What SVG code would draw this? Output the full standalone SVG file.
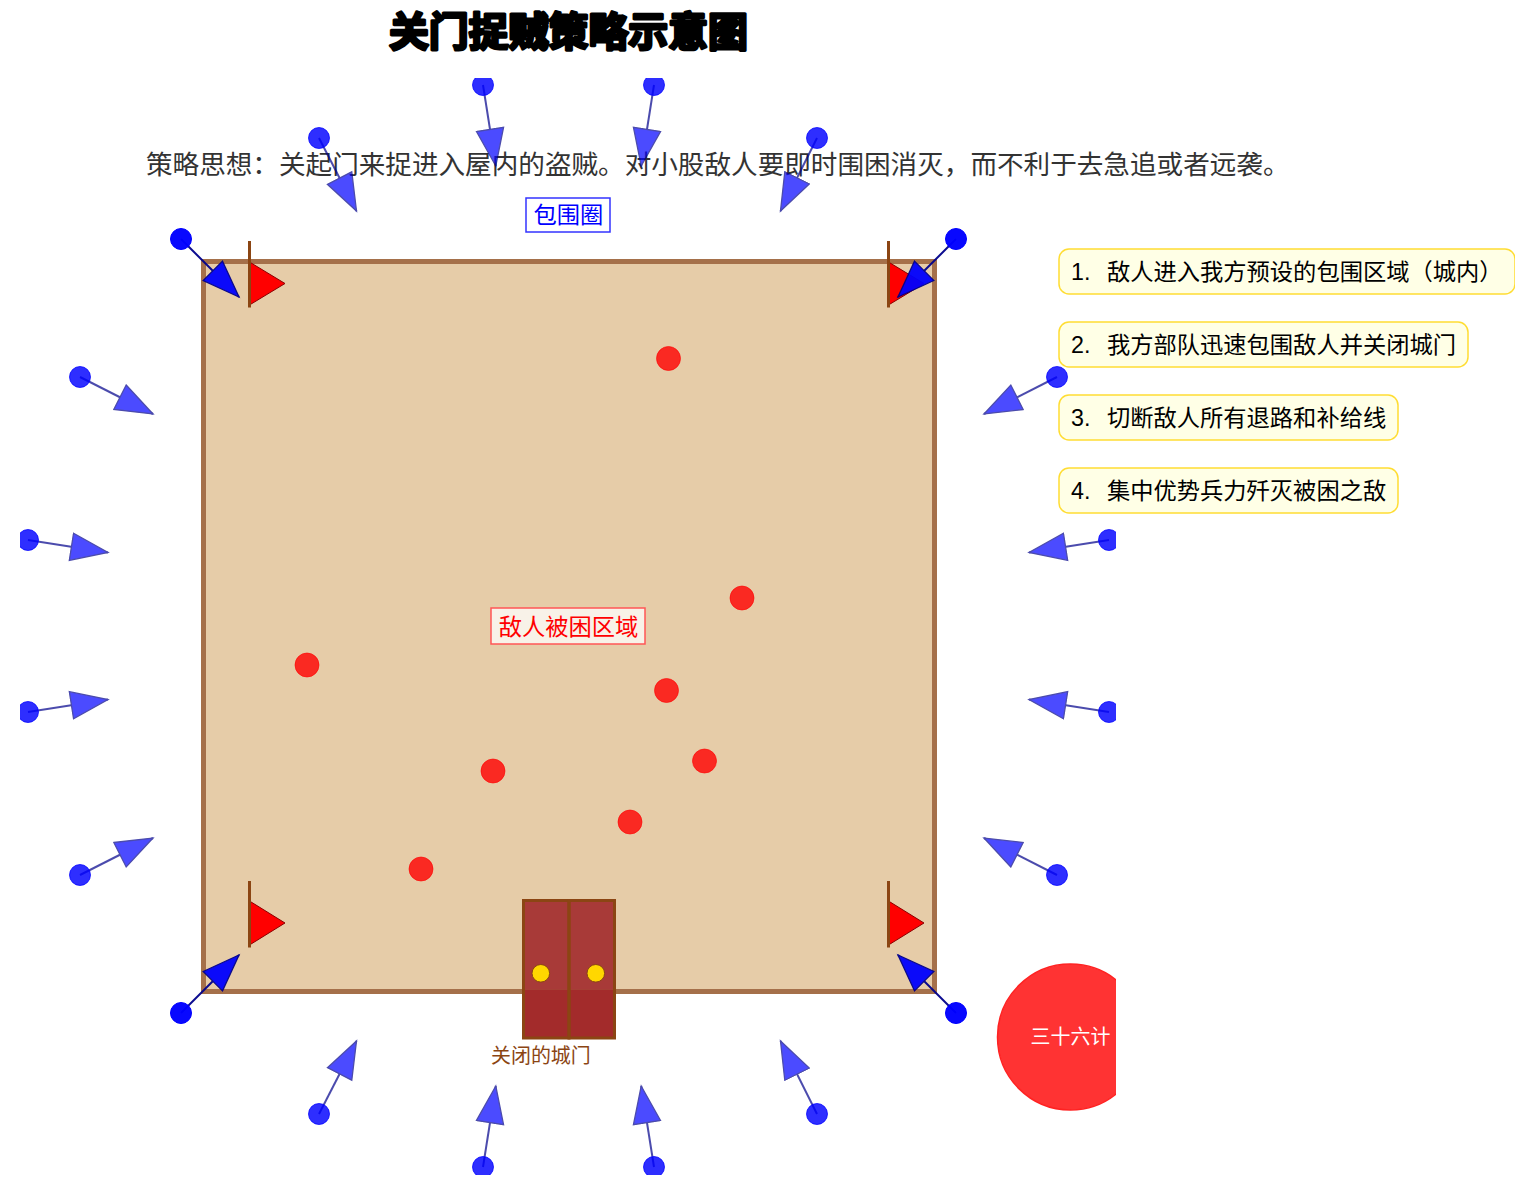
<svg xmlns="http://www.w3.org/2000/svg" width="1515" height="1186" viewBox="0 0 1515 1186">
<style>
text{font-family:"Noto Sans Mono CJK SC","Noto Sans CJK SC",sans-serif}
.cn{text-anchor:middle}
.pole{stroke:#8B4513;stroke-width:3;fill:none}
.flag{fill:#FF0000;stroke:#8B0000;stroke-width:1}
.enemy{fill:#FF0000;fill-opacity:.8;stroke:#FF0000;stroke-opacity:.6;stroke-width:1}
.soldier{fill:#0000FF;fill-opacity:.82;stroke:#0000FF;stroke-opacity:.75;stroke-width:1}
.corner{fill:#0000FF;fill-opacity:.97;stroke:#0000FF;stroke-width:1}
.arrow{stroke:#00008B;stroke-width:2;fill:none;opacity:.7;marker-end:url(#tip)}
.arrowc{stroke:#00008B;stroke-width:2;fill:none;opacity:.95;marker-end:url(#tip)}
.step{fill:#FFFFE6;stroke:#FFDD33;stroke-width:1.5}
.stept{font-size:23.27px;fill:#000}
.num{font-family:"Liberation Sans",sans-serif}
.door{stroke:#8B4513;stroke-width:3}
.knob{fill:#FFD700;stroke:#8B4513;stroke-width:1}
</style>
<defs>
<clipPath id="view"><rect x="20" y="78" width="1096" height="1097"/></clipPath>
<marker id="tip" markerUnits="userSpaceOnUse" markerWidth="42" markerHeight="32" refX="38" refY="15" orient="auto">
<polygon points="1,1.300 38,15 1,28.700" fill="#0000FF" stroke="#00008B" stroke-width="1.300"/>
</marker>
</defs>
<rect width="1515" height="1186" fill="#FFFFFF"/>
<g id="title"><text class="cn" x="568.500" y="46" font-size="39.900" font-weight="700" fill="#000" stroke="#000" stroke-width="3" stroke-linejoin="round">关门捉贼策略示意图</text></g>
<g id="subtitle"><text x="146" y="174" font-size="26.600" fill="#333333">策略思想：关起门来捉进入屋内的盗贼。对小股敌人要即时围困消灭，而不利于去急追或者远袭。</text></g>
<g id="city"><rect x="203.500" y="261.500" width="731" height="730" fill="#E6CCA8" stroke="#A5704A" stroke-width="5"/></g>
<g id="flag1"><path class="flag" d="M249.500 262L285 283.500L249.500 305Z"/><path class="pole" d="M249.500 241V307.500"/></g>
<g id="flag2"><path class="flag" d="M888.500 262L924 283.500L888.500 305Z"/><path class="pole" d="M888.500 241V307.500"/></g>
<g id="flag3"><path class="flag" d="M249.500 901L285 923L249.500 945Z"/><path class="pole" d="M249.500 881V947.500"/></g>
<g id="flag4"><path class="flag" d="M888.500 901L924 923L888.500 945Z"/><path class="pole" d="M888.500 881V947.500"/></g>
<g id="enemies">
<circle class="enemy" cx="668.500" cy="358.500" r="12"/>
<circle class="enemy" cx="742" cy="598" r="12"/>
<circle class="enemy" cx="307" cy="665" r="12"/>
<circle class="enemy" cx="666.500" cy="690.500" r="12"/>
<circle class="enemy" cx="704.500" cy="761" r="12"/>
<circle class="enemy" cx="493" cy="771" r="12"/>
<circle class="enemy" cx="630" cy="822" r="12"/>
<circle class="enemy" cx="421" cy="869" r="12"/>
</g>
<g id="gate">
<rect x="523.500" y="900.500" width="45.500" height="89" fill="#A83A38"/>
<rect x="569" y="900.500" width="45.500" height="89" fill="#A83A38"/>
<rect x="523.500" y="989.500" width="91" height="48.500" fill="#A32B2B"/>
<rect class="door" x="523.500" y="900.500" width="45.500" height="137.500" fill="none"/>
<rect class="door" x="569" y="900.500" width="45.500" height="137.500" fill="none"/>
<circle class="knob" cx="540.800" cy="973.300" r="8.800"/>
<circle class="knob" cx="595.800" cy="973.300" r="8.800"/>
<text x="491" y="1063" font-size="19.950" fill="#8B4513">关闭的城门</text>
</g>
<g id="ring-label"><rect x="526" y="198" width="84" height="34" fill="#FFFFFF" fill-opacity=".8" stroke="#3333FF" stroke-width="1.500"/><text class="cn" x="568.500" y="223" font-size="23.270" fill="#0000FF">包围圈</text></g>
<g id="trap-label"><rect x="491" y="608" width="154" height="36" fill="#F8F2E8" stroke="#FF5555" stroke-width="1.500"/><text class="cn" x="568.500" y="635" font-size="23.270" fill="#FF0000">敌人被困区域</text></g>
<g id="step1"><rect class="step" x="1059" y="249" width="456" height="45" rx="10"/><text class="stept num" x="1071" y="280">1.</text><text class="stept" x="1107" y="280">敌人进入我方预设的包围区域（城内）</text></g>
<g id="step2"><rect class="step" x="1059" y="322" width="409" height="45" rx="10"/><text class="stept num" x="1071" y="353">2.</text><text class="stept" x="1107" y="353">我方部队迅速包围敌人并关闭城门</text></g>
<g id="step3"><rect class="step" x="1059" y="395" width="339" height="45" rx="10"/><text class="stept num" x="1071" y="426">3.</text><text class="stept" x="1107" y="426">切断敌人所有退路和补给线</text></g>
<g id="step4"><rect class="step" x="1059" y="468" width="339" height="45" rx="10"/><text class="stept num" x="1071" y="499">4.</text><text class="stept" x="1107" y="499">集中优势兵力歼灭被困之敌</text></g>
<g clip-path="url(#view)">
<g id="connectors">
<path class="arrow" d="M319 138L356.500 211"/>
<path class="arrow" d="M483 85L495.800 166"/>
<path class="arrow" d="M654 85L641.200 166"/>
<path class="arrow" d="M817 138L780.500 211"/>
<path class="arrowc" d="M181 239L239 297"/>
<path class="arrowc" d="M956 239L898 297"/>
<path class="arrowc" d="M181 1013L239 955"/>
<path class="arrowc" d="M956 1013L898 955"/>
<path class="arrow" d="M80 377L153 414"/>
<path class="arrow" d="M28 540L108 552.500"/>
<path class="arrow" d="M28 712L108 699.500"/>
<path class="arrow" d="M80 875L153 838"/>
<path class="arrow" d="M1057 377L984 414"/>
<path class="arrow" d="M1109 540L1029 552.500"/>
<path class="arrow" d="M1109 712L1029 699.500"/>
<path class="arrow" d="M1057 875L984 838"/>
<path class="arrow" d="M319 1114L356.500 1041"/>
<path class="arrow" d="M483 1167L495.800 1086"/>
<path class="arrow" d="M654 1167L641.200 1086"/>
<path class="arrow" d="M817 1114L780.500 1041"/>
</g>
<g id="soldiers">
<circle id="s1" class="soldier" cx="319" cy="138" r="10.500"/>
<circle id="s2" class="soldier" cx="483" cy="85" r="10.500"/>
<circle id="s3" class="soldier" cx="654" cy="85" r="10.500"/>
<circle id="s4" class="soldier" cx="817" cy="138" r="10.500"/>
<circle id="s5" class="corner" cx="181" cy="239" r="10.500"/>
<circle id="s6" class="corner" cx="956" cy="239" r="10.500"/>
<circle id="s7" class="corner" cx="181" cy="1013" r="10.500"/>
<circle id="s8" class="corner" cx="956" cy="1013" r="10.500"/>
<circle id="s9" class="soldier" cx="80" cy="377" r="10.500"/>
<circle id="s10" class="soldier" cx="28" cy="540" r="10.500"/>
<circle id="s11" class="soldier" cx="28" cy="712" r="10.500"/>
<circle id="s12" class="soldier" cx="80" cy="875" r="10.500"/>
<circle id="s13" class="soldier" cx="1057" cy="377" r="10.500"/>
<circle id="s14" class="soldier" cx="1109" cy="540" r="10.500"/>
<circle id="s15" class="soldier" cx="1109" cy="712" r="10.500"/>
<circle id="s16" class="soldier" cx="1057" cy="875" r="10.500"/>
<circle id="s17" class="soldier" cx="319" cy="1114" r="10.500"/>
<circle id="s18" class="soldier" cx="483" cy="1167" r="10.500"/>
<circle id="s19" class="soldier" cx="654" cy="1167" r="10.500"/>
<circle id="s20" class="soldier" cx="817" cy="1114" r="10.500"/>
</g>
<g id="seal"><circle cx="1070.500" cy="1037" r="73" fill="#FF3333" stroke="#FF2222" stroke-width="1.500"/><text class="cn" x="1070.500" y="1044" font-size="19.950" fill="#FFFFFF">三十六计</text></g>
</g>
</svg>
